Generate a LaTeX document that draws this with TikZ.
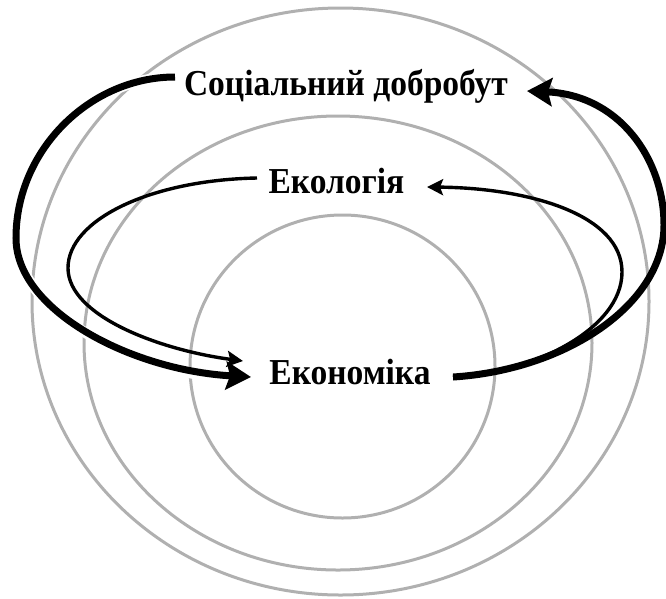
\documentclass[tikz,border=0pt]{standalone}
\usepackage{graphicx}
\usepackage{fontspec}
\setmainfont{Liberation Serif}
\usetikzlibrary{arrows.meta}
\newcommand{\tallbold}[1]{\scalebox{1}[1.09]{#1}}
\begin{document}
\begin{tikzpicture}[x=1pt,y=-1pt,
  ring/.style={draw=black!31, line width=3pt},
  lbl/.style={font=\fontsize{33.5}{36}\selectfont\bfseries, inner sep=0pt, anchor=base},
  bigarrow/.style={line width=7pt, -{Stealth[length=25pt,width=28pt,inset=4pt]}},
  smallarrow/.style={line width=3.4pt, -{Stealth[length=16pt,width=16pt,inset=3pt]}}]
\path[use as bounding box] (0,0) rectangle (666,598);
% rings
\draw[ring] (340.5,301.5) ellipse [x radius=308.5, y radius=293.5];
\draw[ring] (338,343) ellipse [x radius=254, y radius=227];
\draw[ring] (342.5,366.5) ellipse [x radius=152.5, y radius=151.5];
% labels
\node[lbl] (soc) at (346,95) {\tallbold{Соціальний добробут}};
\node[lbl] (eko) at (336.5,193) {\tallbold{Екологія}};
\node[lbl] (eco) at (350,384) {\tallbold{Економіка}};
% connector ends
\coordinate (socout) at (175,77);
\coordinate (socin) at (527,91);
\coordinate (ekoout) at (257,178);
\coordinate (ekoin) at (427,187);
\coordinate (ecoinA) at (251,377);
\coordinate (ecoinB) at (243,361);
\coordinate (ecoout) at (453,377);
% thin arrows
\draw[smallarrow] (ekoout) .. controls (150,180) and (68,220) .. (68,268)
   .. controls (68,316) and (160,350) .. (ecoinB);
\draw[smallarrow] (ecoout) .. controls (530,374) and (622,330) .. (622,272)
   .. controls (622,215) and (530,188) .. (ekoin);
% thick arrows
\draw[white, line width=10.5pt] (socout) .. controls (90,77) and (16,150) .. (16,238)
   .. controls (16,310) and (130,370) .. ([xshift=-32pt]ecoinA);
\draw[bigarrow] (socout) .. controls (90,77) and (16,150) .. (16,238)
   .. controls (16,310) and (130,370) .. (ecoinA);
\draw[bigarrow] (ecoout) .. controls (565,370) and (664,305) .. (664,225)
   .. controls (664,160) and (620,95) .. (socin);
\end{tikzpicture}
\end{document}
